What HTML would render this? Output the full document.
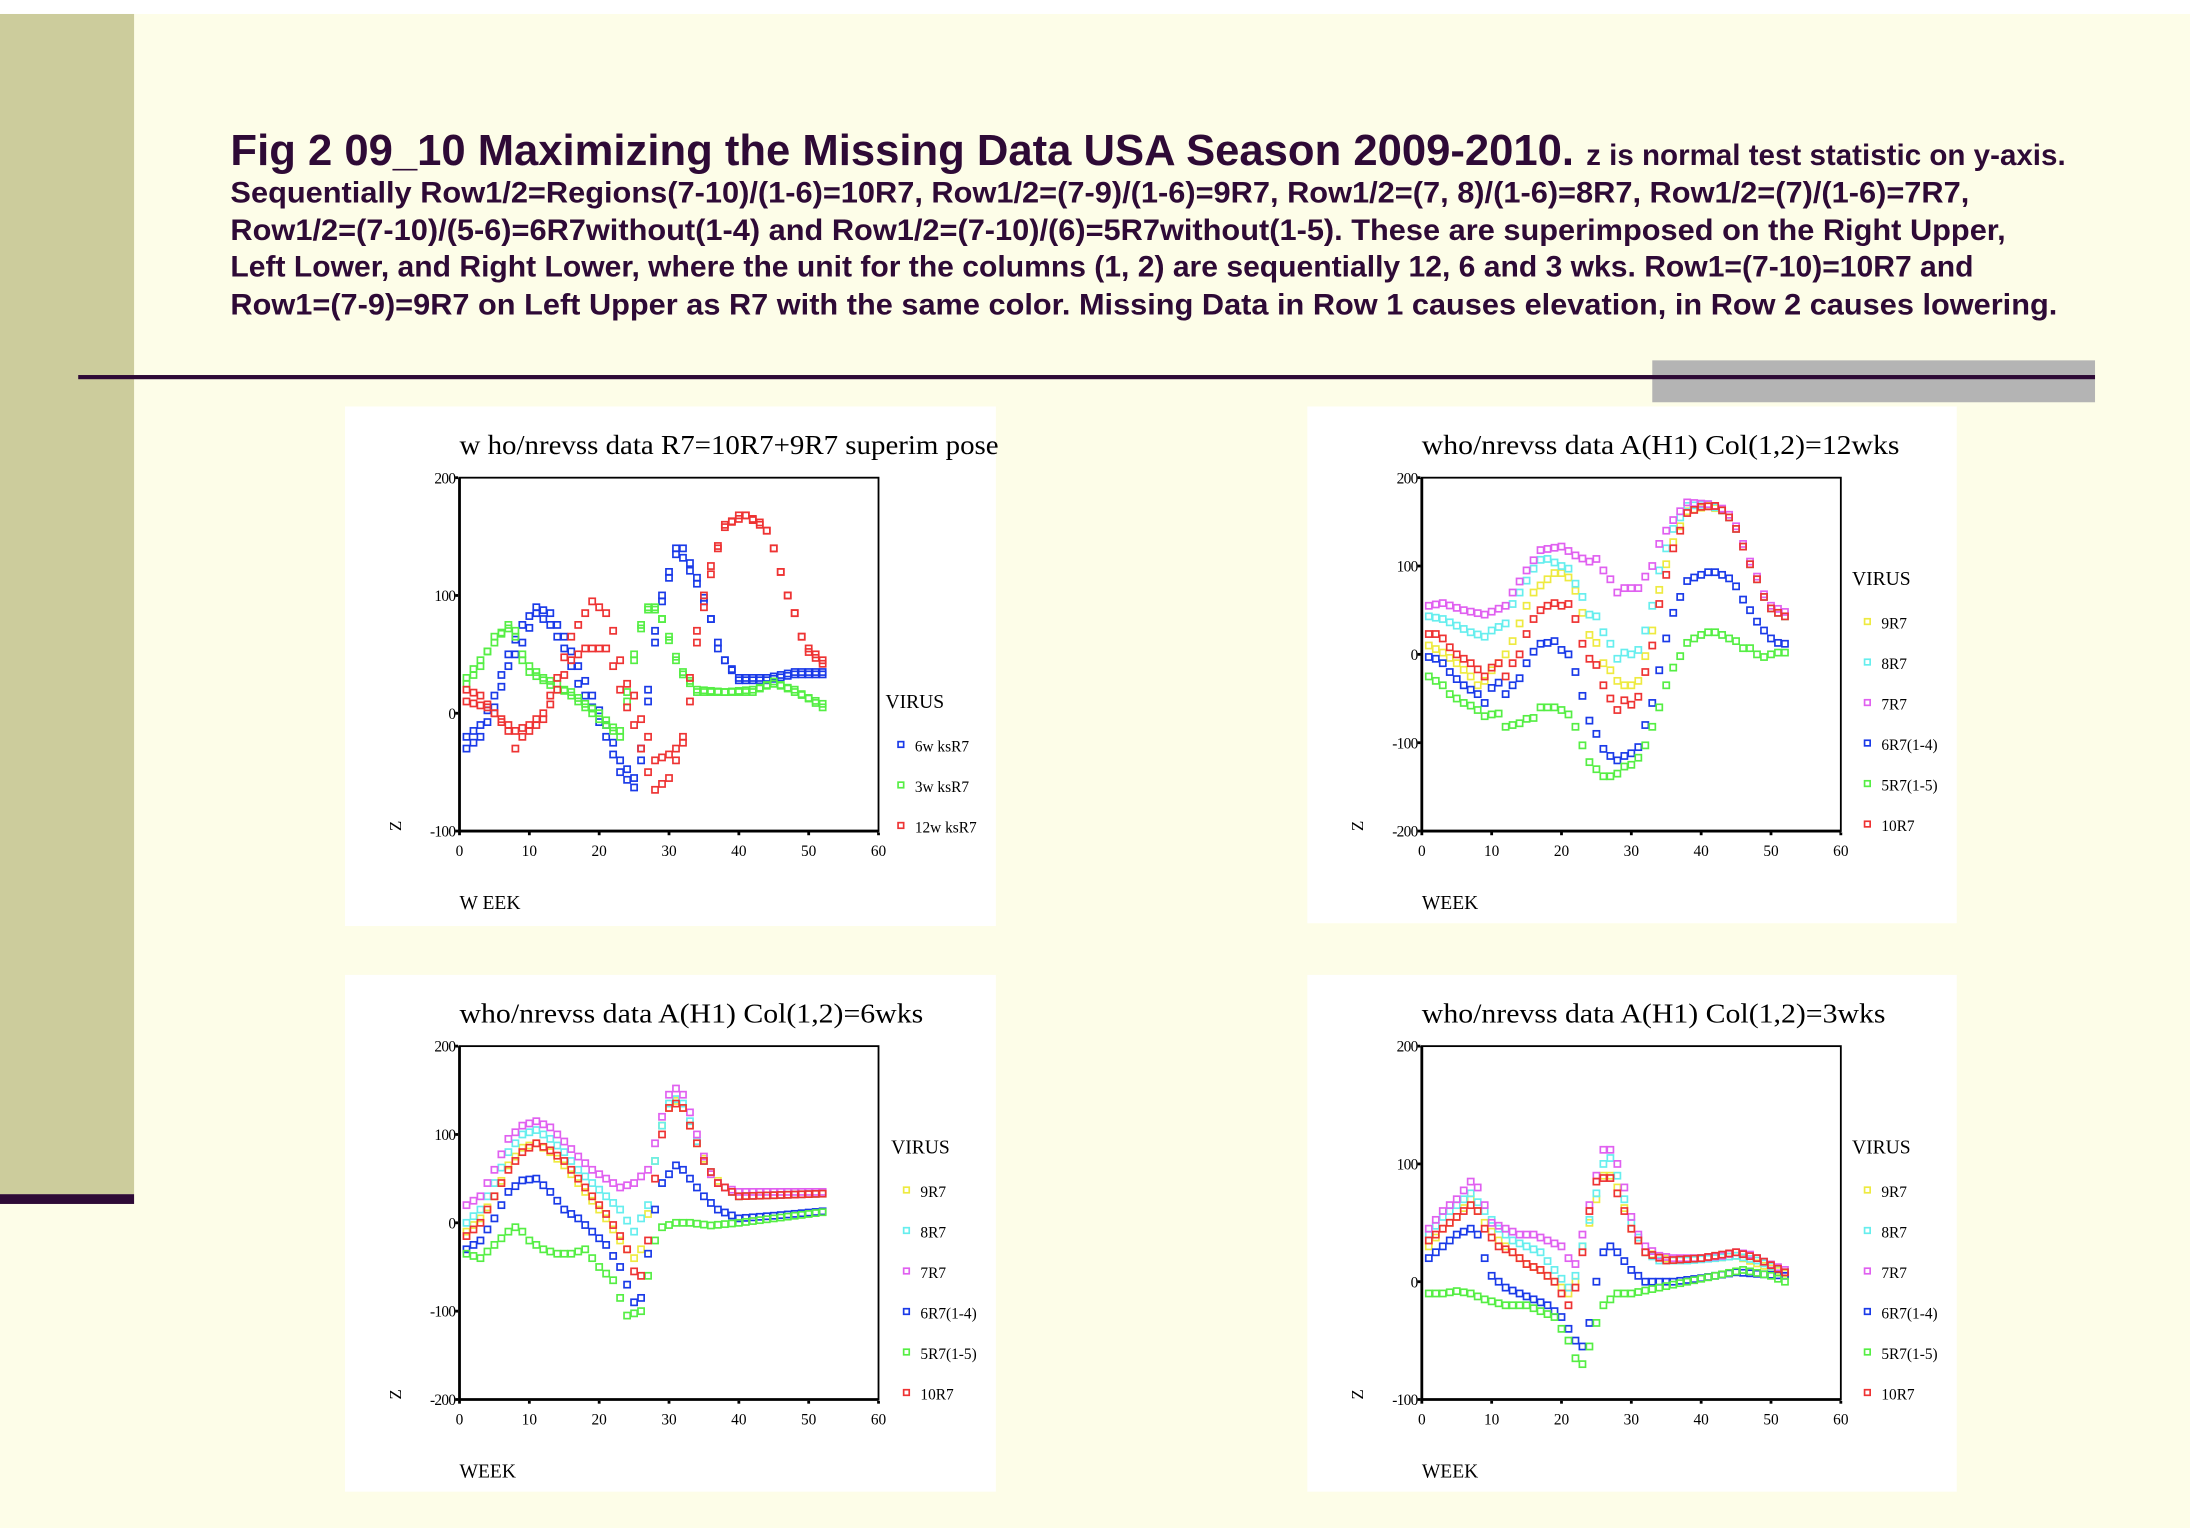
<!DOCTYPE html>
<html><head><meta charset="utf-8"><style>
html,body{margin:0;padding:0;background:#fdfde8;}
svg{display:block}
</style></head><body>
<svg id="s" width="2190" height="1528" viewBox="0 0 1568 1094" xmlns="http://www.w3.org/2000/svg">
<rect x="0" y="0" width="1568" height="1094" fill="#fdfde8"/>
<rect x="0" y="0" width="1568" height="10" fill="#ffffff"/>
<rect x="0" y="10" width="96" height="845" fill="#cccc9c"/>
<rect x="0" y="855" width="96" height="7" fill="#2e0a36"/>
<rect x="1183" y="258" width="317" height="30" fill="#b4b4b4"/>
<rect x="56" y="268.5" width="1444" height="3" fill="#2e0a36"/>
<g font-family="'Liberation Sans',sans-serif" font-weight="bold" fill="#2e0a36">
<text x="165" y="118" font-size="31" textLength="1314" lengthAdjust="spacingAndGlyphs">Fig 2 09_10 Maximizing the Missing Data USA Season 2009-2010. <tspan font-size="21">z is normal test statistic on y-axis.</tspan></text>
<text x="165" y="145" font-size="21.5" textLength="1245" lengthAdjust="spacingAndGlyphs">Sequentially Row1/2=Regions(7-10)/(1-6)=10R7, Row1/2=(7-9)/(1-6)=9R7, Row1/2=(7, 8)/(1-6)=8R7, Row1/2=(7)/(1-6)=7R7,</text>
<text x="165" y="172" font-size="21.5" textLength="1271" lengthAdjust="spacingAndGlyphs">Row1/2=(7-10)/(5-6)=6R7without(1-4) and Row1/2=(7-10)/(6)=5R7without(1-5). These are superimposed on the Right Upper,</text>
<text x="165" y="198" font-size="21.5" textLength="1248" lengthAdjust="spacingAndGlyphs">Left Lower, and Right Lower, where the unit for the columns (1, 2) are sequentially 12, 6 and 3 wks. Row1=(7-10)=10R7 and</text>
<text x="165" y="225" font-size="21.5" textLength="1308" lengthAdjust="spacingAndGlyphs">Row1=(7-9)=9R7 on Left Upper as R7 with the same color. Missing Data in Row 1 causes elevation, in Row 2 causes lowering.</text>
</g>
<rect x="247" y="291" width="466" height="372" fill="#fff"/>
<rect x="936" y="291" width="465" height="370" fill="#fff"/>
<rect x="247" y="698" width="466" height="370" fill="#fff"/>
<rect x="936" y="698" width="465" height="370" fill="#fff"/>
<g id="g"></g>
</svg>
<script>
var NS="http://www.w3.org/2000/svg",G=document.getElementById("g");
function el(t,a,txt){var e=document.createElementNS(NS,t);for(var k in a)e.setAttribute(k,a[k]);if(txt!=null)e.textContent=txt;G.appendChild(e);return e;}
function interp(k){var o=[];for(var w=1;w<=52;w++){var i=0;while(i<k.length-2&&k[i+1][0]<w)i++;var a=k[i],b=k[i+1];var t=(w-a[0])/(b[0]-a[0]);if(w<=a[0])t=0;if(w>=b[0]&&i==k.length-2)t=Math.min(1,t);o.push([w,a[1]+(b[1]-a[1])*t]);}return o;}
function P(s){var a=s.split(","),o=[];for(var i=0;i<a.length;i++){var p=a[i].split(":");o.push([+p[0],+p[1]]);}return o;}
var C={b:"#1a3ae8",g:"#55ee44",r:"#ee3333",y:"#eeea40",c:"#66eeee",m:"#e060f0"};
function panel(o){
 var x0=o.x0,x1=o.x0+300,y0=o.y0,y1=o.y0+253;
 var X=function(w){return x0+w/60*300},Y=function(v){return y1-(v-o.ymin)/(o.ymax-o.ymin)*253};
 el("text",{x:o.tx,y:o.y0-17,"font-family":"'Liberation Serif',serif","font-size":o.tfs||20,fill:"#000",textLength:o.tl,lengthAdjust:"spacingAndGlyphs"},o.title);
 el("rect",{x:x0,y:y0,width:300,height:253,fill:"none",stroke:"#000","stroke-width":1.3});
 el("line",{x1:x0,y1:y0,x2:x0,y2:y1+1,stroke:"#000","stroke-width":2});
 el("line",{x1:x0-1,y1:y1,x2:x1,y2:y1,stroke:"#000","stroke-width":2});
 for(var w=0;w<=60;w+=10){el("rect",{x:X(w)-1,y:y1+1,width:2,height:2,fill:"#000"});
  el("text",{x:X(w),y:y1+18,"font-family":"'Liberation Serif',serif","font-size":11,"text-anchor":"middle"},w);}
 for(var v=o.ymin;v<=o.ymax;v+=100){el("rect",{x:x0-3,y:Y(v)-1,width:2,height:2,fill:"#000"});
  el("text",{x:x0-3,y:Y(v)+4,"font-family":"'Liberation Serif',serif","font-size":11,"text-anchor":"end","letter-spacing":"-0.5"},v);}
 el("text",{x:x0-42,y:y1,"font-family":"'Liberation Serif',serif","font-size":12,transform:"rotate(-90 "+(x0-42)+" "+y1+")"},"Z");
 el("text",{x:x0,y:y1+56,"font-family":"'Liberation Serif',serif","font-size":14},o.wk||"WEEK");
 el("text",{x:o.lx,y:o.ly,"font-family":"'Liberation Serif',serif","font-size":14},"VIRUS");
 for(var i=0;i<o.leg.length;i++){var yy=o.ly+31+i*29;
  el("rect",{x:o.lx+9,y:yy-7,width:4,height:4,fill:"none",stroke:C[o.leg[i][0]],"stroke-width":1.2});
  el("text",{x:o.lx+21,y:yy,"font-family":"'Liberation Serif',serif","font-size":11},o.leg[i][1]);}
 for(var j=0;j<o.series.length;j++){var s=o.series[j],d=interp(P(s[1])),dx=s[2]||0,dy=s[3]||0;
  for(var k=0;k<d.length;k++){el("rect",{x:X(d[k][0]+dx)-2.2,y:Y(d[k][1]+dy)-2.2,width:4.4,height:4.4,fill:"none",stroke:C[s[0]],"stroke-width":1.2});}}
}
panel({x0:329,y0:342,ymin:-100,ymax:200,tx:329,tl:386,title:"w ho/nrevss data R7=10R7+9R7 superim pose",wk:"W EEK",lx:634,ly:507,
 leg:[["b","6w ksR7"],["g","3w ksR7"],["r","12w ksR7"]],
 series:[
 ["b","1:-20,3:-10,5:15,7:50,9:75,11:90,13:85,15:65,17:40,19:15,21:-10,23:-40,25:-55,26:-40,27:10,28:60,29:100,31:140,32:140,34:115,35:95,36:80,37:55,38:45,40:30,44:30,48:35,52:35"],
 ["b","1:-30,3:-20,5:5,7:40,9:60,11:85,13:75,15:55,17:25,19:5,21:-20,23:-50,25:-63,26:-30,27:20,28:70,29:95,31:135,32:132,34:110,35:98,36:80,37:60,38:45,40:28,44:28,48:33,52:33"],
 ["g","1:30,3:45,5:60,7:75,8:70,9:50,10:40,12:30,14:25,16:15,18:5,20:-5,22:-15,23:-15,24:10,25:50,26:75,27:90,28:90,29:80,30:65,31:45,32:35,34:20,38:18,42:20,45:25,48:20,52:5"],
 ["g","1:25,3:40,5:65,7:72,8:65,9:45,10:35,12:28,14:20,16:18,18:8,20:0,22:-12,23:-20,24:18,25:45,26:72,27:88,28:88,29:80,30:62,31:48,32:33,34:18,38:18,42:18,45:27,48:18,52:8"],
 ["r","1:20,3:15,5:0,7:-15,8:-30,9:-20,10:-15,12:-5,14:20,16:45,18:55,20:55,21:55,22:40,23:20,24:5,25:-10,26:-30,27:-50,28:-65,30:-55,31:-40,32:-20,33:10,34:60,35:100,36:125,37:140,38:160,40:165,41:168,43:160,44:155,45:140,46:120,47:100,48:85,49:65,50:55,52:45"],
 ["r","1:10,4:5,6:-5,8:-15,10:-10,12:0,14:30,16:65,18:85,19:95,21:85,22:70,23:45,24:25,25:15,26:-5,27:-20,28:-40,30:-35,31:-30,32:-25,33:30,34:70,35:90,36:118,37:142,38:158,40:168,41:168,43:162,44:155,45:140,46:120,47:100,48:85,49:65,50:52,52:42"]
 ]});
var S12=[
 ["y","1:10,3:2,5:-10,7:-25,8:-35,9:-30,10:-18,11:-10,12:0,13:15,14:35,15:55,16:70,17:78,18:85,19:92,20:92,21:87,22:72,23:47,24:22,25:13,26:-10,27:-18,28:-30,29:-35,30:-35,31:-30,32:-2,33:27,34:73,35:102,36:127,37:145,38:162,41:168,43:163,44:155,45:142,46:122,47:102,48:85,49:65,50:52,51:47,52:43"],
 ["c","1:43,3:40,7:25,9:20,10:27,12:35,13:57,14:70,16:97,17:107,18:108,20:100,21:97,22:80,23:65,24:45,25:43,26:25,27:12,28:-5,29:2,30:0,31:5,32:27,33:55,34:95,35:120,36:142,37:155,38:168,41:170,43:163,44:155,45:142,46:122,47:102,48:85,49:65,50:52,51:47,52:43"],
 ["m","1:55,3:58,6:50,9:45,12:55,13:70,15:95,17:118,20:122,22:112,24:105,25:108,26:95,27:85,28:70,29:75,31:75,32:88,33:100,34:125,35:140,36:152,37:162,38:172,41:170,42:168,43:165,44:158,45:145,46:125,47:105,48:88,49:68,50:55,52:48"],
 ["b","1:-3,2:-5,3:-10,4:-20,5:-28,6:-35,7:-40,8:-45,9:-55,10:-38,11:-32,12:-45,13:-35,14:-27,15:-10,16:3,17:12,18:13,19:15,20:5,21:0,22:-20,23:-47,24:-75,25:-90,26:-107,27:-115,28:-120,29:-115,30:-112,31:-105,32:-80,33:-55,34:-18,35:18,36:47,37:65,38:83,39:87,40:90,41:93,42:93,43:90,44:86,45:77,46:62,47:50,48:37,49:27,50:18,51:13,52:12"],
 ["g","1:-25,2:-30,3:-35,4:-45,5:-50,6:-55,7:-58,8:-63,9:-70,10:-68,11:-67,12:-82,13:-80,14:-78,15:-73,16:-72,17:-60,18:-60,19:-60,20:-63,21:-68,22:-82,23:-103,24:-122,25:-130,26:-138,27:-138,28:-135,29:-127,30:-125,31:-117,32:-103,33:-82,34:-60,35:-35,36:-15,37:-2,38:13,39:18,40:22,41:25,42:25,43:22,44:18,45:15,46:7,47:7,48:0,49:-3,50:0,51:2,52:2"],
 ["r","1:23,2:23,3:18,4:8,5:0,6:-5,7:-10,8:-17,9:-25,10:-15,11:-10,12:-25,13:-10,14:0,15:23,16:40,17:50,18:55,19:58,20:55,21:57,22:40,23:12,24:-5,25:-12,26:-35,27:-50,28:-63,29:-52,30:-57,31:-48,32:-20,33:10,34:57,35:90,36:120,37:140,38:160,40:167,42:168,43:163,44:155,45:142,46:122,47:102,48:85,49:65,50:52,51:47,52:43"]];
var L=[["y","9R7"],["c","8R7"],["m","7R7"],["b","6R7(1-4)"],["g","5R7(1-5)"],["r","10R7"]];
panel({x0:1018,y0:342,ymin:-200,ymax:200,tx:1018,tl:342,title:"who/nrevss data A(H1) Col(1,2)=12wks",lx:1326,ly:419,leg:L,series:S12});
panel({x0:329,y0:749,ymin:-200,ymax:200,tx:329,tl:332,title:"who/nrevss data A(H1) Col(1,2)=6wks",lx:638,ly:826,leg:L,series:[
 ["y","1:-10,3:5,5:30,7:65,9:85,11:90,13:80,15:65,17:45,19:25,21:5,23:-20,25:-40,26:-30,27:10,28:70,29:110,30:130,31:138,32:130,34:90,36:55,38:40,40:30,52:33"],
 ["c","1:0,3:15,5:45,7:80,9:100,11:105,13:95,15:80,17:60,19:45,21:30,23:15,25:-10,27:20,28:70,29:110,30:135,31:140,32:135,33:115,35:70,37:45,40:30,52:33"],
 ["m","1:20,3:30,5:60,7:95,9:110,11:115,13:108,15:92,17:75,19:60,21:50,23:40,25:45,27:60,28:90,29:120,30:145,31:152,32:145,33:125,34:100,35:75,36:55,37:45,38:40,40:35,45:35,52:35"],
 ["b","1:-30,3:-20,5:5,7:35,9:48,11:50,13:35,15:15,17:5,19:-10,21:-25,23:-50,24:-70,25:-90,26:-85,27:-35,28:15,29:45,30:55,31:65,32:60,33:50,35:30,37:15,40:5,45:8,52:13"],
 ["g","1:-35,3:-40,5:-25,7:-10,8:-5,9:-10,10:-20,12:-30,14:-35,16:-35,18:-30,19:-40,20:-50,22:-65,23:-85,24:-105,26:-100,27:-60,28:-20,29:-5,31:0,33:0,36:-3,40:0,45:5,52:12"],
 ["r","1:-15,3:0,5:30,7:60,9:80,11:90,13:82,15:70,17:50,19:30,21:10,23:-15,24:-30,25:-55,26:-60,27:-20,28:50,29:100,30:130,31:135,32:130,33:110,35:70,37:45,40:30,52:33"]]});
panel({x0:1018,y0:749,ymin:-100,ymax:200,tx:1018,tl:332,title:"who/nrevss data A(H1) Col(1,2)=3wks",lx:1326,ly:826,leg:L,series:[
 ["y","1:30,3:45,5:55,7:70,9:50,11:35,13:25,15:15,17:10,19:0,21:-10,22:0,23:30,25:70,26:90,27:90,28:80,30:45,32:25,36:18,42:20,45:22,52:7"],
 ["c","1:40,3:55,5:65,7:75,9:60,11:45,13:35,15:30,17:25,19:10,21:-5,22:5,23:30,25:75,26:100,27:105,28:90,29:70,30:50,32:25,34:18,38:18,42:20,45:22,48:18,52:8"],
 ["m","1:45,3:60,5:70,7:85,8:80,9:65,10:50,12:45,14:40,16:40,18:35,20:30,21:20,22:15,23:40,24:65,25:90,26:112,27:112,28:100,29:80,30:55,31:40,32:30,34:22,36:20,40:20,43:22,45:25,47:23,49:17,52:10"],
 ["b","1:20,3:30,5:40,7:45,8:40,9:20,10:5,12:-5,14:-10,16:-15,18:-20,20:-30,21:-40,22:-50,23:-55,24:-35,25:0,26:25,27:30,28:25,30:10,32:0,36:0,40:3,45:8,52:5"],
 ["g","1:-10,3:-10,5:-8,7:-10,9:-15,12:-20,15:-20,17:-25,19:-30,21:-50,22:-65,23:-70,24:-55,25:-35,26:-20,28:-10,30:-10,34:-5,38:0,42:5,46:10,50:5,52:0"],
 ["r","1:35,3:45,5:55,7:65,8:60,9:45,11:30,13:25,15:15,17:10,19:0,20:-10,21:-20,22:-5,23:25,24:60,25:85,26:88,27:88,28:75,30:45,32:25,35:18,40:20,45:25,48:20,52:8"]]});
</script>
</body></html>
